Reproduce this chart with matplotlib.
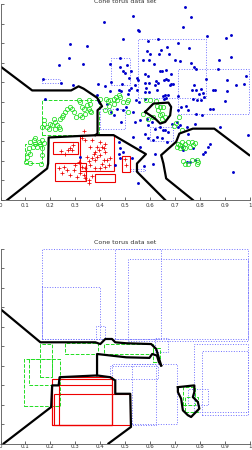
import matplotlib
matplotlib.use("Agg")
import matplotlib.pyplot as plt
from matplotlib.patches import Rectangle

# ---- scatter data (top panel) ----
blue_x = [.740, .763, .531, .416, .733, .827, .923, .904, .280, .347, .491, .273, .233, .329,
          .171, .243, .291, .391, .420, .444, .180, .473, .483, .440, .477, .493, .501, .509,
          .480, .551, .557, .631, .593, .588, .600, .637, .644, .667, .711, .757, .675, .573,
          .595, .617, .700, .721, .764, .777, .784, .877, .924, .872, .641, .648, .664, .524,
          .581, .591, .684, .515, .551, .547, .655, .664, .671, .581, .595, .624, .632, .684,
          .691, .777, .824, .907, .944, .977, .984, .515, .524, .584, .581, .595, .768, .784,
          .804, .795, .811, .815, .851, .861, .908, .651, .661, .671, .657, .664, .711, .773,
          .788, .804, .901, .544, .557, .711, .724, .744, .751, .840, .853, .784, .487, .540,
          .547, .620, .627, .680, .440, .513, .580, .393, .427, .444, .453, .484, .533, .540,
          .560, .587, .593, .607, .620, .640, .660, .707, .720, .580, .593, .613, .627, .647,
          .667, .473, .480, .493, .533, .560, .620, .527, .576, .611, .551, .687, .713, .807,
          .747, .753, .780, .880, .993, .840, .833, .820, .813, .773, .733, .727, .747, .760,
          .780, .933, .673, .653, .387, .391, .467, .491, .504, .320, .473, .480, .460]
blue_y = [.986, .936, .939, .907, .885, .836, .842, .827, .797, .785, .819, .724, .690, .692,
          .615, .598, .588, .593, .580, .602, .514, .563, .554, .695, .681, .658, .647, .690,
          .724, .868, .864, .822, .810, .759, .746, .746, .766, .780, .800, .776, .746, .715,
          .715, .692, .712, .707, .698, .681, .669, .712, .729, .666, .658, .658, .664, .658,
          .641, .632, .641, .624, .610, .624, .610, .619, .610, .597, .597, .605, .597, .593,
          .593, .585, .615, .610, .585, .593, .632, .559, .573, .573, .551, .551, .563, .559,
          .568, .539, .546, .525, .559, .559, .556, .529, .534, .537, .517, .522, .529, .517,
          .508, .512, .505, .508, .502, .461, .475, .478, .458, .466, .466, .441, .593, .585,
          .559, .585, .559, .585, .556, .542, .517, .500, .492, .449, .432, .398, .449, .398,
          .407, .415, .381, .398, .364, .373, .356, .398, .381, .339, .314, .305, .322, .314,
          .297, .297, .263, .246, .322, .271, .237, .212, .175, .183, .088, .390, .373, .432,
          .373, .339, .390, .373, .331, .288, .271, .246, .237, .263, .254, .271, .195, .195,
          .203, .144, .347, .356, .537, .512, .466, .458, .475, .220, .237, .212, .178]

green_x = [.313, .320, .353, .360, .400, .424, .440, .453, .280, .287, .267, .260, .293, .327,
           .333, .347, .353, .360, .340, .320, .327, .304, .251, .240, .247, .213, .220, .200,
           .207, .227, .233, .240, .220, .193, .173, .176, .167, .187, .120, .133, .140, .153,
           .160, .167, .173, .147, .167, .131, .113, .109, .120, .107, .167, .103, .117, .163,
           .140, .429, .464, .473, .480, .467, .493, .507, .513, .453, .364, .420, .440, .513,
           .433, .627, .640, .633, .653, .647, .640, .660, .647, .613, .593, .583, .600, .624,
           .573, .716, .704, .696, .727, .713, .720, .727, .733, .740, .753, .767, .773, .780,
           .720, .740, .760, .707, .767, .740, .787, .753, .733, .787, .793]
green_y = [.508, .500, .508, .492, .517, .517, .508, .514, .475, .463, .463, .449, .449, .475,
           .463, .486, .466, .453, .441, .436, .424, .424, .436, .415, .424, .415, .398, .390,
           .381, .381, .373, .364, .364, .364, .390, .407, .373, .373, .297, .305, .288, .297,
           .288, .305, .292, .271, .263, .271, .263, .246, .237, .220, .229, .195, .190, .186,
           .314, .505, .525, .534, .525, .512, .500, .500, .508, .492, .449, .458, .449, .449,
           .478, .478, .475, .458, .475, .441, .432, .424, .415, .424, .415, .512, .512, .505,
           .441, .424, .393, .376, .356, .288, .280, .297, .271, .288, .297, .297, .280, .292,
           .263, .263, .271, .271, .203, .186, .203, .186, .200, .186, .193]

red_x = [.280, .291, .271, .287, .243, .260, .327, .340, .367, .400, .420, .407, .413, .393,
         .380, .420, .400, .387, .380, .367, .347, .353, .413, .407, .427, .440, .433, .420,
         .400, .380, .360, .340, .327, .320, .333, .340, .353, .367, .313, .300, .293, .267,
         .247, .233, .253, .333, .353, .500, .504, .387, .360, .373, .307, .280]
red_y = [.266, .280, .254, .254, .251, .237, .314, .305, .305, .297, .288, .271, .263, .254,
         .246, .246, .229, .220, .203, .212, .220, .198, .203, .186, .203, .212, .178, .169,
         .164, .161, .178, .161, .169, .136, .127, .110, .102, .124, .195, .178, .153, .153,
         .136, .161, .169, .353, .088, .207, .178, .271, .271, .237, .119, .127]

# ---- hyperboxes (x0, y0, x1, y1) ----
top_blue_boxes = [(.167, .597, .240, .619), (.444, .585, .520, .725), (.553, .522, .823, .822),
                  (.711, .441, .997, .666), (.400, .364, .500, .466), (.600, .300, .690, .370),
                  (.520, .147, .580, .160)]
top_green_boxes = [(.167, .334, .393, .512), (.100, .190, .167, .288)]
top_red_boxes = [(.209, .237, .309, .297), (.320, .149, .453, .331), (.220, .098, .343, .190),
                 (.377, .090, .457, .132), (.487, .144, .520, .224)]

bot_blue_boxes = [(.167, .536, .993, .995), (.167, .536, .397, .803), (.460, .536, .644, .995),
                  (.513, .527, .993, .944), (.775, .163, .993, .510), (.808, .145, .993, .473),
                  (.445, .094, .625, .410), (.527, .102, .707, .410), (.384, .536, .420, .604),
                  (.620, .470, .670, .540), (.440, .330, .630, .400), (.750, .200, .830, .280)]
bot_green_boxes = [(.093, .190, .237, .434), (.113, .300, .207, .434), (.160, .340, .207, .510),
                   (.260, .459, .389, .514), (.413, .460, .610, .510), (.610, .420, .640, .490),
                   (.730, .200, .780, .290), (.740, .160, .790, .240)]
bot_red_boxes = [(.207, .094, .447, .332), (.207, .094, .447, .298), (.213, .094, .520, .255),
                 (.233, .094, .447, .340)]

# ---- decision boundaries ----
top_lines = [
    [(0, .681), (.127, .559), (.283, .559), (.313, .580), (.333, .568), (.387, .522),
     (.407, .478), (.389, .458), (.389, .339), (.380, .331)],
    [(.027, 0), (.187, .161), (.191, .186), (.193, .319), (.389, .331), (.453, .331),
     (.583, .234), (.547, .186), (.547, .144), (.660, 0)],
    [(.771, 0), (.664, .110), (.653, .186), (.644, .229), (.704, .297), (.717, .339),
     (.771, .364), (.857, .364), (.997, .229)],
    [(.580, .449), (.613, .492), (.673, .497), (.684, .475), (.680, .432), (.660, .398),
     (.640, .390), (.620, .415), (.580, .449)],
]
bot_lines = [
    [(0, .689), (.160, .519), (.380, .519), (.400, .510), (.420, .536), (.447, .536),
     (.460, .519), (.504, .514), (.604, .510), (.624, .485), (.644, .400)],
    [(.644, .400), (.635, .417), (.627, .451), (.608, .459), (.597, .439), (.504, .442),
     (.387, .459), (.387, .349), (.237, .340), (.233, .298), (.207, .298), (.203, .187),
     (.013, 0)],
    [(.387, .349), (.440, .340), (.460, .323), (.460, .255), (.520, .255), (.523, .085),
     (.433, 0)],
    [(.711, .289), (.777, .298), (.777, .264), (.771, .238), (.791, .213), (.797, .179),
     (.764, .136), (.751, .145), (.731, .170), (.724, .230), (.711, .264), (.711, .289)],
]

title = "Cone torus data set"
xticks = [0, .1, .2, .3, .4, .5, .6, .7, .8, .9, 1]
xticklabels = ["0", "0.1", "0.2", "0.3", "0.4", "0.5", "0.6", "0.7", "0.8", "0.9", "1"]


def draw_boxes(ax, boxes, color, ls, lw):
    for x0, y0, x1, y1 in boxes:
        ax.add_patch(Rectangle((x0, y0), x1 - x0, y1 - y0, fill=False,
                               edgecolor=color, linestyle=ls, linewidth=lw))


def draw_lines(ax, lines):
    for ln in lines:
        xs = [p[0] for p in ln]
        ys = [p[1] for p in ln]
        ax.plot(xs, ys, color="black", linewidth=1.6, solid_joinstyle="round")


def style(ax, title_pad, label_pad):
    ax.set_xlim(0, 1)
    ax.set_ylim(0, 1)
    ax.set_xticks(xticks)
    ax.set_xticklabels(xticklabels)
    # y tick labels fall outside the picture in the original, only the marks show
    ax.set_yticks(xticks)
    ax.set_yticklabels([])
    ax.tick_params(direction="in", length=2, width=0.5, labelsize=4, pad=2, colors="#333333")
    ax.tick_params(axis="x", pad=label_pad)
    for s in ["top", "right"]:
        ax.spines[s].set_visible(False)
    for s in ["left", "bottom"]:
        ax.spines[s].set_linewidth(0.6)
        ax.spines[s].set_color("#555555")
    ax.set_title(title, fontsize=4.5, pad=title_pad, color="#333333")


fig = plt.figure(figsize=(2.52, 4.5), dpi=100)
ax1 = fig.add_axes([0.002, 1 - 200 / 450, 0.99, 196 / 450])
ax2 = fig.add_axes([0.002, 6.5 / 450, 0.99, 195 / 450])

# top panel
draw_boxes(ax1, top_blue_boxes, "#7070ff", ":", 0.7)
draw_boxes(ax1, top_green_boxes, "#22dd22", "--", 0.7)
draw_boxes(ax1, top_red_boxes, "#ee0000", "-", 0.8)
ax1.plot(blue_x, blue_y, "o", color="#0000cc", markersize=2.1, markeredgewidth=0)
ax1.plot(green_x, green_y, "o", markerfacecolor="none", markeredgecolor="#22dd22",
         markersize=3.1, markeredgewidth=0.55)
ax1.plot(red_x, red_y, "+", color="#ee0000", markersize=2.8, markeredgewidth=0.55)
draw_lines(ax1, top_lines)
style(ax1, 1, 2)

# bottom panel
draw_boxes(ax2, bot_blue_boxes, "#7070ff", ":", 0.7)
draw_boxes(ax2, bot_green_boxes, "#22dd22", "--", 0.7)
draw_boxes(ax2, bot_red_boxes, "#ee0000", "-", 0.8)
draw_lines(ax2, bot_lines)
style(ax2, 3, 0.6)

fig.savefig("out.png", dpi=100)
